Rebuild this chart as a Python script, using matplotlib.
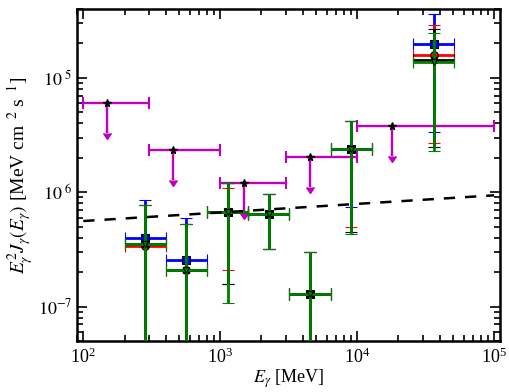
import numpy as np
import matplotlib
matplotlib.use("Agg")
import matplotlib.pyplot as plt
from matplotlib.ticker import FixedLocator, FixedFormatter, LogLocator, NullFormatter

plt.rcParams['font.family'] = 'serif'
plt.rcParams['font.serif'] = ['Liberation Serif', 'DejaVu Serif']
plt.rcParams['mathtext.fontset'] = 'stix'

# energy bins [MeV]
e_mid = [283, 566, 1131, 2263, 4525, 9051, 36204]
e_lo = [200, 400, 800, 1600, 3200, 6400, 25600]
e_hi = [400, 800, 1600, 3200, 6400, 12800, 51200]

# E^2 J(E) for the four models (value, upper, lower); 1e-9 = below the frame
blue_y = [4.0e-7, 2.58e-7, 6.7e-7, 6.4e-7, 1.3e-7, 2.38e-6, 1.99e-5]
blue_hi = [8.5e-7, 6.0e-7, 1.2e-6, 9.6e-7, 3.0e-7, 4.2e-6, 3.64e-5]
blue_lo = [1e-9, 1e-9, 1.58e-7, 3.2e-7, 1e-9, 7.4e-7, 3.36e-6]

red_y = [3.4e-7, 2.11e-7, 6.7e-7, 6.4e-7, 1.3e-7, 2.38e-6, 1.59e-5]
red_hi = [7.7e-7, 5.25e-7, 1.1e-6, 9.6e-7, 3.0e-7, 4.2e-6, 2.92e-5]
red_lo = [1e-9, 1e-9, 2.1e-7, 3.2e-7, 1e-9, 5.0e-7, 2.69e-6]

black_y = [3.55e-7, 2.11e-7, 6.7e-7, 6.4e-7, 1.3e-7, 2.38e-6, 1.44e-5]
black_hi = [7.7e-7, 5.25e-7, 1.2e-6, 9.6e-7, 3.0e-7, 4.2e-6, 2.69e-5]
black_lo = [1e-9, 1e-9, 1.58e-7, 3.2e-7, 1e-9, 4.46e-7, 2.48e-6]

green_y = [3.55e-7, 2.11e-7, 6.7e-7, 6.4e-7, 1.3e-7, 2.38e-6, 1.38e-5]
green_hi = [7.7e-7, 5.25e-7, 1.2e-6, 9.6e-7, 3.0e-7, 4.2e-6, 2.48e-5]
green_lo = [1e-9, 1e-9, 1.08e-7, 3.2e-7, 1e-9, 4.3e-7, 2.29e-6]

# upper limits (magenta)
ul_x = [150, 450, 1500, 4500, 18000]
ul_lo = [100, 300, 1000, 3000, 10000]
ul_hi = [300, 1000, 3000, 10000, 100000]
ul_y = [6.0e-6, 2.33e-6, 1.2e-6, 2.03e-6, 3.8e-6]

# dashed curve
line_x = [100, 100000]
line_y = [5.6e-7, 9.4e-7]

fig = plt.figure(figsize=(5.1, 3.92), dpi=100)
ax = fig.add_axes([0.151, 0.130, 0.829, 0.847])
ax.set_xscale('log')
ax.set_yscale('log')

series = [
    (blue_y, blue_hi, blue_lo, 'b', 's', 6),
    (red_y, red_hi, red_lo, 'r', 'o', 5.5),
    (black_y, black_hi, black_lo, 'k', 's', 5),
    (green_y, green_hi, green_lo, 'g', 'v', 4.5),
]
xerr = [np.array(e_mid) - np.array(e_lo), np.array(e_hi) - np.array(e_mid)]
for i, (y, hi, lo, c, m, ms) in enumerate(series):
    y = np.array(y)
    yerr = [y - np.array(lo), np.array(hi) - y]
    ax.errorbar(e_mid, y, xerr=xerr, yerr=yerr, fmt=m, color=c, mec='k',
                mew=0.8, ms=ms, elinewidth=2.0, capsize=4, capthick=1.5,
                zorder=3 + i)

ul_y = np.array(ul_y)
ax.errorbar(ul_x, ul_y,
            xerr=[np.array(ul_x) - np.array(ul_lo), np.array(ul_hi) - np.array(ul_x)],
            fmt='none', color='m', elinewidth=1.7, capsize=4, capthick=1.5, zorder=2)
ax.errorbar(ul_x, ul_y, yerr=0.45 * ul_y, uplims=True, fmt='none', color='m',
            elinewidth=1.7, capsize=3, zorder=2)
ax.plot(ul_x, ul_y, ls='none', marker='*', color='k', ms=5.5, zorder=2.5)

ax.plot(line_x, line_y, color='k', lw=1.8, dashes=(4.5, 4), zorder=8)

ax.set_xlim(90, 1.1e5)
ax.set_ylim(5e-8, 4e-5)

ax.yaxis.set_major_locator(FixedLocator([1e-7, 1e-6, 1e-5]))
ax.yaxis.set_major_formatter(FixedFormatter([r'$10^{-7}$', r'$10^{\ 6}$', r'$10^{\ 5}$']))
ax.yaxis.set_minor_locator(LogLocator(base=10, subs=np.arange(2, 10), numticks=20))
ax.yaxis.set_minor_formatter(NullFormatter())
ax.xaxis.set_minor_formatter(NullFormatter())

ax.tick_params(which='both', direction='in', top=True, right=True, width=1.2, labelsize=13)
ax.tick_params(which='major', length=7)
ax.tick_params(which='minor', length=4)
ax.tick_params(axis='x', pad=5)
for s in ax.spines.values():
    s.set_linewidth(1.8)

ax.set_xlabel(r'$E_\gamma$ [MeV]', fontsize=13, labelpad=0)
ax.set_ylabel(r'$E_\gamma^2 J_\gamma(E_\gamma)$ [MeV cm$^{\ \ 2}$ s$^{\ \ 1}$]', fontsize=14, labelpad=1)

fig.savefig('out.png', dpi=100)
